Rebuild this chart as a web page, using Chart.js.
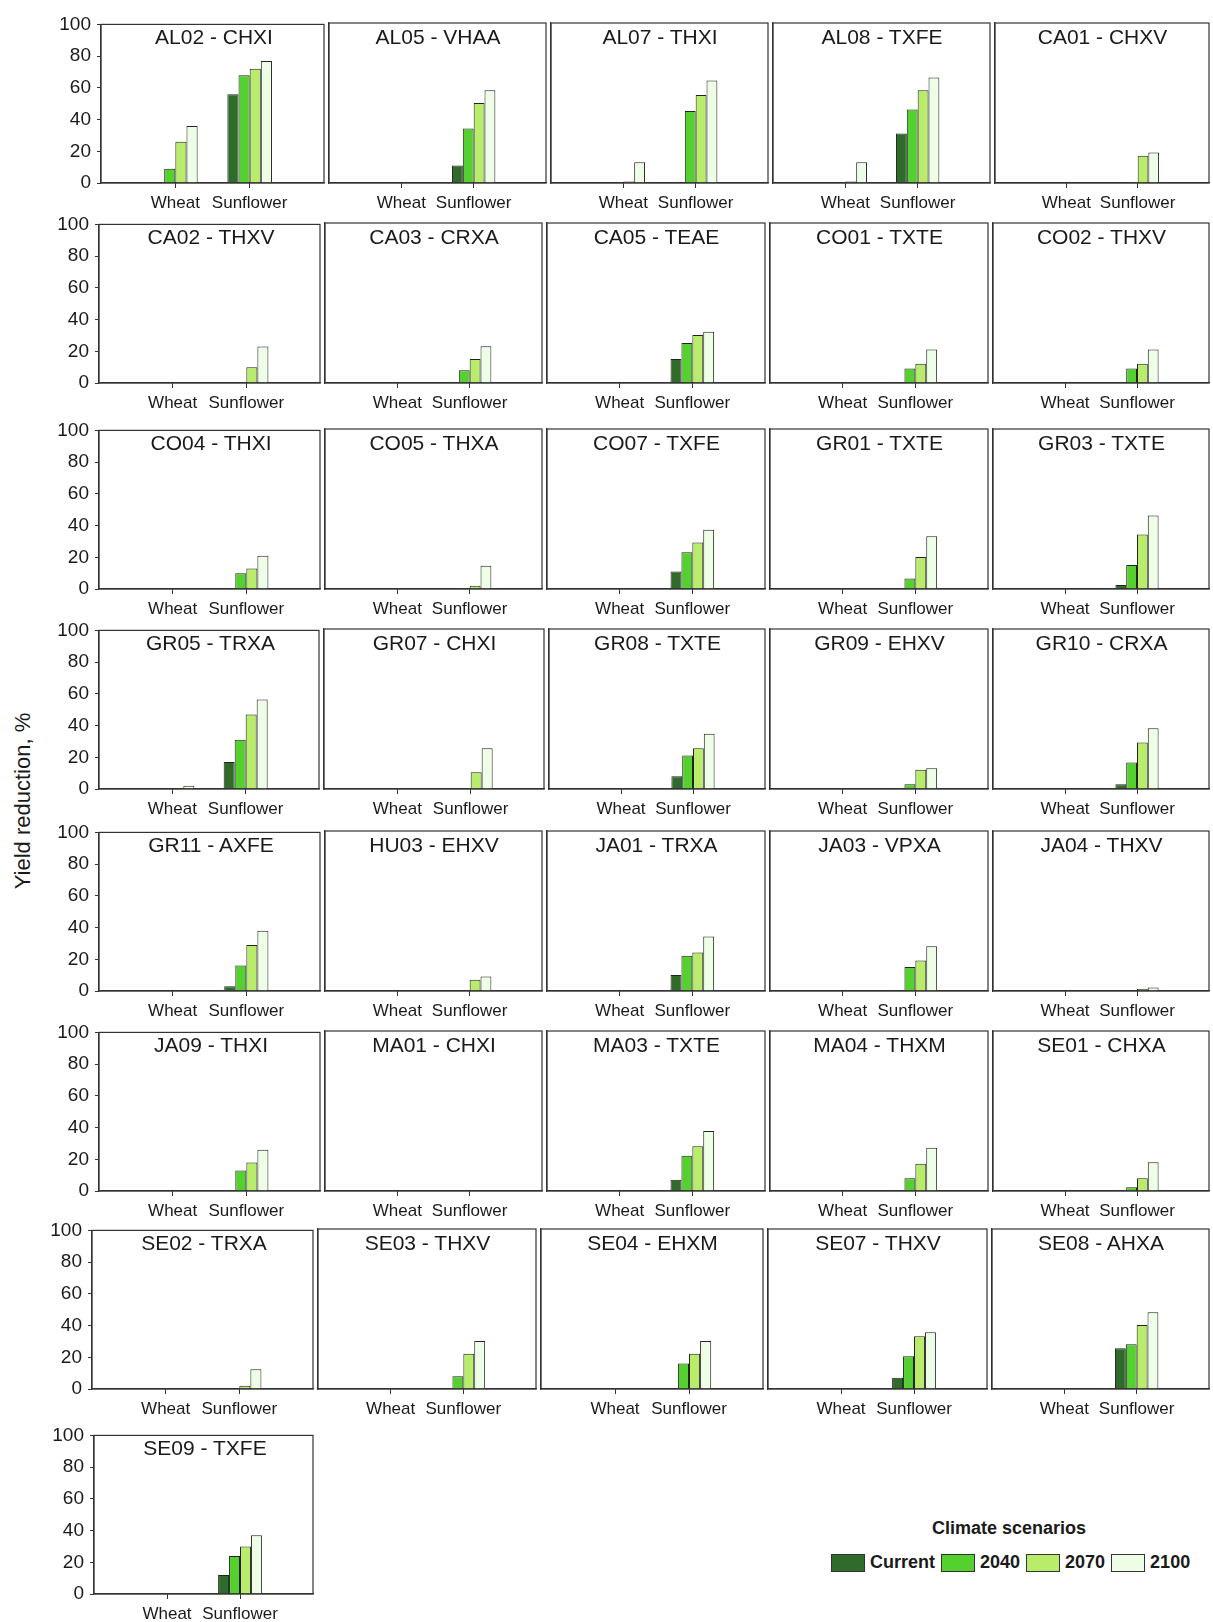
<!DOCTYPE html>
<html>
<head>
<meta charset="utf-8">
<script src="https://cdn.jsdelivr.net/npm/chart.js@4"></script>
<style>
  body { margin: 0; background: #fff; font-family: "Liberation Sans", Arial, sans-serif; color: #1a1a1a; }
  #page { position: relative; width: 1213px; height: 1622px; overflow: hidden; }
  .panel { position: absolute; }
  .title { position: absolute; font-size: 21px; white-space: nowrap; transform: translateX(-50%); line-height: 24px; }
  #ylabel { position: absolute; left: 23px; top: 801px; font-size: 22px; white-space: nowrap;
            transform: translate(-50%, -50%) rotate(-90deg); }
  #legend { position: absolute; left: 831px; top: 1518px; width: 380px; }
  #legend .head { text-align: center; font-size: 18px; font-weight: bold; margin-left: -12px; width: 380px; }
  #legend .items { display: flex; align-items: center; margin-top: 13px; font-size: 18px; font-weight: bold; }
  #legend .sw { width: 34px; height: 18px; border: 1px solid #333; margin-right: 5px; box-sizing: border-box; }
  #legend .lab { margin-right: 6px; }
</style>
</head>
<body>
<div id="page">
  <div id="ylabel">Yield reduction, %</div>
  <div id="legend"></div>
</div>
<script>
// ---- data ----
const CROPS = ['', 'Wheat', 'Sunflower', ''];
const SCENARIOS = ['Current', '2040', '2070', '2100'];
const COLORS = ['#2f6b2a', '#55d12f', '#b9ec6b', '#eefde6'];
const Y_TICKS = [0, 20, 40, 60, 80, 100];

const SITES = [
  'AL02 - CHXI', 'AL05 - VHAA', 'AL07 - THXI', 'AL08 - TXFE', 'CA01 - CHXV',
  'CA02 - THXV', 'CA03 - CRXA', 'CA05 - TEAE', 'CO01 - TXTE', 'CO02 - THXV',
  'CO04 - THXI', 'CO05 - THXA', 'CO07 - TXFE', 'GR01 - TXTE', 'GR03 - TXTE',
  'GR05 - TRXA', 'GR07 - CHXI', 'GR08 - TXTE', 'GR09 - EHXV', 'GR10 - CRXA',
  'GR11 - AXFE', 'HU03 - EHXV', 'JA01 - TRXA', 'JA03 - VPXA', 'JA04 - THXV',
  'JA09 - THXI', 'MA01 - CHXI', 'MA03 - TXTE', 'MA04 - THXM', 'SE01 - CHXA',
  'SE02 - TRXA', 'SE03 - THXV', 'SE04 - EHXM', 'SE07 - THXV', 'SE08 - AHXA',
  'SE09 - TXFE'
];

// [wheat, sunflower] per site
const CURRENT = [
  [0, 56], [0, 11], [0, 0], [0, 31], [0, 0],
  [0, 0], [0, 0], [0, 15], [0, 0], [0, 0],
  [0, 0], [0, 0], [0, 11], [0, 0], [0, 2.5],
  [0, 17], [0, 0], [0, 8], [0, 0], [0, 3],
  [0, 3], [0, 0], [0, 10], [0, 0], [0, 0],
  [0, 0], [0, 0], [0, 7], [0, 0], [0, 0],
  [0, 0], [0, 0.5], [0, 0], [0, 7], [0, 25.5],
  [0, 12]
];
const Y2040 = [
  [9, 68], [0, 34], [0, 45], [0, 46], [0, 0.7],
  [0, 0], [0, 8], [0, 25], [0, 9], [0, 9],
  [0, 10], [0, 0.5], [0, 23], [0, 6.5], [0, 15],
  [0, 31], [0, 0], [0, 21], [0, 3], [0, 16.5],
  [0, 16], [0, 0], [0, 22], [0, 15], [0, 0],
  [0, 13], [0, 0], [0, 22], [0, 8], [0, 2.3],
  [0, 0], [0, 8], [0, 16], [0, 20.5], [0, 28],
  [0, 24]
];
const Y2070 = [
  [26, 72], [0, 50], [1, 55], [1, 58], [0, 17],
  [0, 10], [0, 15], [0, 30], [0, 12], [0, 12],
  [0, 13], [0, 2], [0, 29], [0, 20], [0, 34],
  [0, 47], [0, 10.5], [0, 25.5], [0, 12], [0, 29],
  [0, 29], [0, 7], [0, 24], [0, 19], [0, 1.3],
  [0, 18], [0, 0], [0, 28], [0, 17], [0, 8],
  [0, 2], [0, 22], [0, 22], [0, 33], [0, 40],
  [0, 30]
];
const Y2100 = [
  [36, 77], [0, 58], [13, 64], [13, 66], [0, 19],
  [0, 23], [0, 23], [0, 32], [0, 21], [0, 21],
  [0, 21], [0, 14.5], [0, 37], [0, 33], [0, 46],
  [2, 56.5], [0, 25.5], [0, 34.5], [0, 13], [0, 38],
  [0, 38], [0, 9], [0, 34], [0, 28], [0, 2.2],
  [0, 26], [0, 0], [0, 37.5], [0, 27], [0, 18],
  [0, 12.5], [0, 30], [0, 30], [0, 35.5], [0, 48],
  [0, 37]
];
const SERIES = [CURRENT, Y2040, Y2070, Y2100];

// ---- layout ----
const ROW_TOP = [23, 223, 429, 629, 831, 1031, 1229, 1434];
const ROW_LEFT = [
  [101, 327, 549, 771, 993],
  [99, 323, 545, 768, 991],
  [99, 323, 545, 768, 991],
  [99, 322, 547, 768, 991],
  [99, 323, 545, 768, 991],
  [99, 323, 545, 768, 991],
  [92, 316, 539, 766, 990],
  [94]
];
const PLOT_H = 160;
const RIGHT_EDGE = 1212;
const INK = '#333';

const framePlugin = {
  id: 'frame',
  afterDraw(chart) {
    const { ctx, chartArea: a } = chart;
    ctx.save();
    ctx.strokeStyle = INK;
    ctx.lineWidth = 1.2;
    ctx.strokeRect(a.left, a.top, a.right - a.left, a.bottom - a.top);
    ctx.restore();
  }
};

const page = document.getElementById('page');

SITES.forEach((site, i) => {
  const row = Math.floor(i / 5), col = i % 5;
  const lefts = ROW_LEFT[row];
  const left = lefts[col];
  const right = col + 1 < lefts.length ? lefts[col + 1] : (row === 7 ? 316 : RIGHT_EDGE);
  const w = right - left;
  const top = ROW_TOP[row];

  const padL = col === 0 ? left : 3;
  const padT = 16, padR = 2, padB = 38;

  const box = document.createElement('div');
  box.className = 'panel';
  box.style.left = (left - padL) + 'px';
  box.style.top = (top - padT) + 'px';
  const canvas = document.createElement('canvas');
  canvas.width = w + padL + padR;
  canvas.height = PLOT_H + padT + padB;
  box.appendChild(canvas);
  page.appendChild(box);

  const t = document.createElement('div');
  t.className = 'title';
  t.textContent = site;
  t.style.left = (left + w / 2) + 'px';
  t.style.top = (top + 2) + 'px';
  page.appendChild(t);

  new Chart(canvas, {
    type: 'bar',
    data: {
      labels: CROPS,
      datasets: SCENARIOS.map((name, s) => ({
        label: name,
        data: [null, SERIES[s][i][0], SERIES[s][i][1], null],
        backgroundColor: COLORS[s],
        borderColor: '#222',
        borderWidth: 1,
        categoryPercentage: 0.6,
        barPercentage: 1.0
      }))
    },
    options: {
      responsive: false,
      animation: false,
      layout: { padding: { top: padT, right: padR, left: 0, bottom: 0 } },
      plugins: { legend: { display: false }, tooltip: { enabled: false }, title: { display: false } },
      scales: {
        x: {
          offset: false,
          grid: {
            display: true, drawOnChartArea: false, offset: false, tickLength: 5,
            color: c => (c.index === 1 || c.index === 2) ? INK : 'rgba(0,0,0,0)'
          },
          border: { color: INK, width: 1.2 },
          ticks: {
            autoSkip: false, maxRotation: 0, padding: 5, color: '#1a1a1a',
            font: { family: '"Liberation Sans", Arial, sans-serif', size: 17 }
          },
          afterFit: s => { s.height = padB; }
        },
        y: {
          min: 0, max: 100,
          afterBuildTicks: s => { s.ticks = Y_TICKS.map(v => ({ value: v })); },
          grid: { display: true, drawOnChartArea: false, drawTicks: col === 0, tickLength: 4, color: INK },
          border: { color: INK, width: 1.2 },
          ticks: {
            display: col === 0, padding: 6, color: '#1a1a1a',
            font: { family: '"Liberation Sans", Arial, sans-serif', size: 19 }
          },
          afterFit: s => { s.width = padL; }
        }
      }
    },
    plugins: [framePlugin]
  });
});

// legend
const legend = document.getElementById('legend');
const head = document.createElement('div');
head.className = 'head';
head.textContent = 'Climate scenarios';
legend.appendChild(head);
const items = document.createElement('div');
items.className = 'items';
SCENARIOS.forEach((name, s) => {
  const sw = document.createElement('span');
  sw.className = 'sw';
  sw.style.background = COLORS[s];
  const lab = document.createElement('span');
  lab.className = 'lab';
  lab.textContent = name;
  items.appendChild(sw);
  items.appendChild(lab);
});
legend.appendChild(items);
</script>
</body>
</html>
